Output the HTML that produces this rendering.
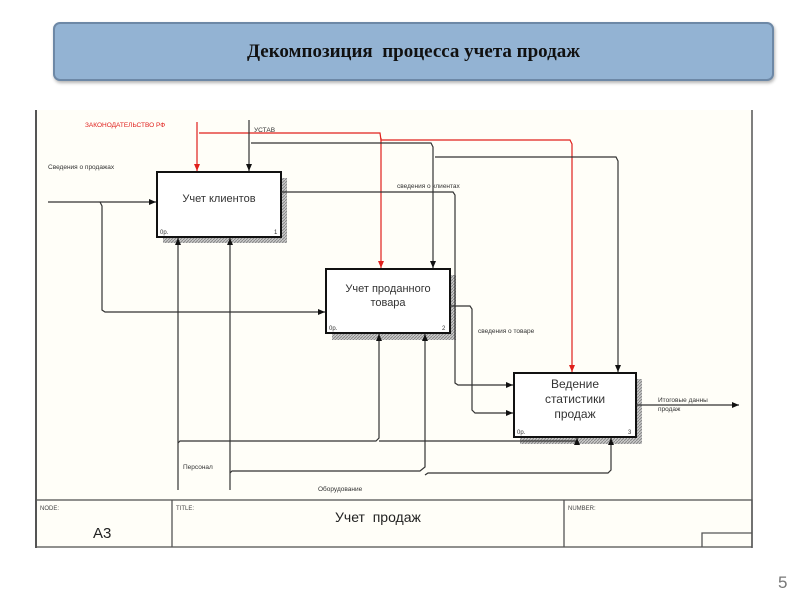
<!DOCTYPE html>
<html><head><meta charset="utf-8"><style>
body{margin:0;width:800px;height:600px;background:#fff;position:relative;overflow:hidden;font-family:"Liberation Sans",sans-serif}
.hdr{position:absolute;left:53px;top:22px;width:717px;height:55px;background:#93b3d3;border:2px solid #6d88a6;border-radius:7px;box-shadow:1px 2px 3px rgba(0,0,0,.3);text-align:center;line-height:55px;font-family:"Liberation Serif",serif;font-weight:bold;font-size:19px;color:#111}
</style></head><body>
<div class="hdr">Декомпозиция&nbsp; процесса учета продаж</div>
<svg width="800" height="600" style="position:absolute;left:0;top:0" font-family="Liberation Sans, sans-serif">
<defs>
<marker id="a" markerWidth="8" markerHeight="8" refX="7" refY="4" orient="auto" markerUnits="userSpaceOnUse"><path d="M0,1 L7,4 L0,7z" fill="#111"/></marker>
<marker id="r" markerWidth="8" markerHeight="8" refX="7" refY="4" orient="auto" markerUnits="userSpaceOnUse"><path d="M0,1 L7,4 L0,7z" fill="#e0201c"/></marker>
<pattern id="h" width="3" height="3" patternUnits="userSpaceOnUse"><rect width="3" height="3" fill="#ccc"/><path d="M0,3L3,0" stroke="#888" stroke-width="1"/></pattern>
</defs>
<rect x="36" y="110" width="716" height="438" fill="#fffef8"/>
<line x1="36" y1="110" x2="36" y2="548" stroke="#555" stroke-width="2"/>
<line x1="752" y1="110" x2="752" y2="548" stroke="#555" stroke-width="1.5"/>
<g fill="none" stroke="#555" stroke-width="1.3">
<rect x="36" y="500" width="716" height="47"/>
<line x1="172" y1="500" x2="172" y2="547"/><line x1="564" y1="500" x2="564" y2="547"/>
<polyline points="702,547 702,533 752,533"/>
</g>
<text x="40" y="510" font-size="6" fill="#444">NODE:</text>
<text x="176" y="510" font-size="6" fill="#444">TITLE:</text>
<text x="568" y="510" font-size="6" fill="#444">NUMBER:</text>
<text x="93" y="538" font-size="15" fill="#222">А3</text>
<text x="335" y="522" font-size="14" fill="#222">Учет&nbsp; продаж</text>
<!-- shadows -->
<rect x="163" y="178" width="124" height="65" fill="url(#h)"/>
<rect x="332" y="275" width="124" height="65" fill="url(#h)"/>
<rect x="520" y="379" width="122" height="65" fill="url(#h)"/>
<g fill="#fff" stroke="#111" stroke-width="2">
<rect x="157" y="172" width="124" height="65"/>
<rect x="326" y="269" width="124" height="64"/>
<rect x="514" y="373" width="122" height="64"/>
</g>
<g font-size="11" fill="#333" text-anchor="middle">
<text x="219" y="202">Учет клиентов</text>
<text x="388" y="292">Учет проданного</text><text x="388" y="306">товара</text>
<text x="575" y="388" font-size="12">Ведение</text><text x="575" y="403" font-size="12">статистики</text><text x="575" y="418" font-size="12">продаж</text>
</g>
<g font-size="6" fill="#333">
<text x="160" y="234">0р.</text><text x="274" y="234">1</text>
<text x="329" y="330">0р.</text><text x="442" y="330">2</text>
<text x="517" y="434">0р.</text><text x="628" y="434">3</text>
</g>
<!-- red -->
<g fill="none" stroke="#e0201c" stroke-width="1.2">
<line x1="197" y1="122" x2="197" y2="171" marker-end="url(#r)"/>
<polyline points="199,133 380,133 381,140 570,140 572,144 572,372" marker-end="url(#r)"/>
<line x1="381" y1="138" x2="381" y2="268" marker-end="url(#r)"/>
</g>
<!-- black -->
<g fill="none" stroke="#333" stroke-width="1.2">
<line x1="249" y1="120" x2="249" y2="171" marker-end="url(#a)"/>
<polyline points="251,143 431,143 433,147 433,268" marker-end="url(#a)"/>
<polyline points="435,157 616,157 618,161 618,372" marker-end="url(#a)"/>
<line x1="48" y1="202" x2="156" y2="202" marker-end="url(#a)"/>
<polyline points="100,202 102,206 102,310 105,312 325,312" marker-end="url(#a)"/>
<polyline points="281,192 453,192 455,195 455,383 458,385 513,385" marker-end="url(#a)"/>
<polyline points="450,306 470,306 472,309 472,410 475,413 513,413" marker-end="url(#a)"/>
<line x1="636" y1="405" x2="739" y2="405" marker-end="url(#a)"/>
<line x1="178" y1="490" x2="178" y2="238" marker-end="url(#a)"/>
<line x1="230" y1="490" x2="230" y2="238" marker-end="url(#a)"/>
<polyline points="178,443 180,441 376,441 379,438 379,334" marker-end="url(#a)"/>
<polyline points="379,441 577,441 577,438" marker-end="url(#a)"/>
<polyline points="230,473 232,471 420,471 425,467 425,334" marker-end="url(#a)"/>
<polyline points="425,475 428,473 608,473 611,470 611,438" marker-end="url(#a)"/>
</g>
<g font-size="6.5" fill="#333">
<text x="85" y="127" fill="#e0201c">ЗАКОНОДАТЕЛЬСТВО РФ</text>
<text x="254" y="132">УСТАВ</text>
<text x="48" y="169">Сведения о продажах</text>
<text x="397" y="188">сведения о клиентах</text>
<text x="478" y="333">сведения о товаре</text>
<text x="658" y="402">Итоговые данны</text>
<text x="658" y="411">продаж</text>
<text x="183" y="469">Персонал</text>
<text x="318" y="491">Оборудование</text>
</g>
<text x="778" y="588" font-size="17" fill="#777">5</text>
</svg>
</body></html>
